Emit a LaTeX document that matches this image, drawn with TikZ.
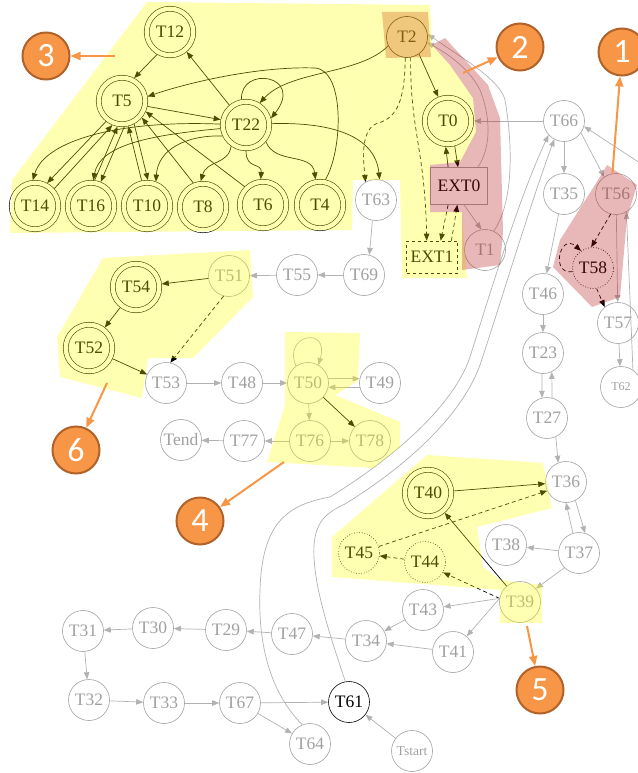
\documentclass[tikz,border=0pt]{standalone}
\usepackage{fontspec}
\setmainfont{Liberation Serif}
\newfontfamily\markfont{Carlito}
\usetikzlibrary{arrows.meta}

\definecolor{nodegray}{RGB}{160,160,160}
\definecolor{edgegray}{RGB}{178,178,178}
\definecolor{hlyellow}{RGB}{255,255,0}
\definecolor{hlred}{RGB}{180,20,20}
\definecolor{hlorange}{RGB}{217,117,45}
\definecolor{mkorange}{RGB}{247,150,70}
\definecolor{mkborder}{RGB}{176,98,42}

\begin{document}
\begin{tikzpicture}[x=1pt, y=-1pt, >={Triangle[length=7pt,width=5.5pt]},
  every node/.style={font=\fontsize{17.5}{19}\selectfont},
  st/.style={circle, draw=black, text=black, line width=0.6pt, minimum size=41pt, inner sep=0pt},
  gst/.style={st, draw=nodegray, text=nodegray},
  fst/.style={st, double, double distance=4.4pt, minimum size=46.5pt, outer sep=2.7pt},
  dst/.style={st, dotted, line width=0.8pt},
  ext/.style={rectangle, draw=nodegray, text=black, line width=0.6pt, minimum width=57pt, minimum height=37pt, inner sep=0pt},
  extd/.style={ext, draw=black, dashed, minimum width=51pt, minimum height=32pt},
  ge/.style={draw=edgegray, line width=0.7pt, ->},
  be/.style={draw=black, line width=0.7pt, ->},
  bd/.style={be, dash pattern=on 4pt off 3pt},
  hy/.style={fill=hlyellow, fill opacity=0.3},
  hr/.style={fill=hlred, fill opacity=0.3},
  ho/.style={fill=hlorange, fill opacity=0.4},
  mk/.style={circle, draw=mkborder, fill=mkorange, line width=2pt, minimum size=47pt, inner sep=0pt, text=white, font=\markfont\fontsize{34}{36}\selectfont},
  ma/.style={draw=mkorange, line width=2pt, -{Triangle[length=10pt,width=8pt]}}]
\useasboundingbox (0,0) rectangle (637,773);

% top cluster
\node[fst] (T12) at (170,32) {T12};
\node[fst] (T5) at (122,101) {T5};
\node[fst] (T22) at (246,125) {T22};
\node[fst] (T14) at (35,206) {T14};
\node[fst] (T16) at (91,206) {T16};
\node[fst] (T10) at (147,206) {T10};
\node[fst] (T8) at (203,207) {T8};
\node[fst] (T6) at (263,205) {T6};
\node[fst] (T4) at (320,205) {T4};
\node[st] (T2) at (407,37) {T2};
\node[fst] (T0) at (448,121) {T0};
\node[ext] (EXT0) at (459,186) {EXT0};
\node[extd] (EXT1) at (432,257) {EXT1};
\node[gst] (T1) at (485,250) {T1};
\node[gst] (T63) at (376,200) {T63};

% middle left
\node[gst] (T69) at (364,275) {T69};
\node[gst] (T55) at (297,275) {T55};
\node[gst] (T51) at (229,276) {T51};
\node[fst] (T54) at (136,287) {T54};
\node[fst] (T52) at (89,348) {T52};
\node[gst] (T53) at (166,383) {T53};
\node[gst] (T48) at (242,383) {T48};
\node[gst] (T50) at (308,383) {T50};
\node[gst] (T49) at (380,383) {T49};
\node[gst] (Tend) at (181,440) {Tend};
\node[gst] (T77) at (244,441) {T77};
\node[gst] (T76) at (310,441) {T76};
\node[gst] (T78) at (370,441) {T78};

% right column
\node[gst] (T66) at (564,121) {T66};
\node[gst] (T35) at (564,194) {T35};
\node[gst] (T56) at (616,194) {T56};
\node[dst] (T58) at (593,268) {T58};
\node[gst] (T57) at (618,323) {T57};
\node[gst, font=\fontsize{12}{14}\selectfont] (T62) at (621,387) {T62};
\node[gst] (T46) at (543,294) {T46};
\node[gst] (T23) at (543,353) {T23};
\node[gst] (T27) at (547,418) {T27};
\node[gst] (T36) at (566,482) {T36};
\node[gst] (T37) at (579,553) {T37};
\node[gst] (T38) at (506,545) {T38};
\node[fst] (T40) at (428,493) {T40};
\node[dst] (T45) at (359,553) {T45};
\node[dst] (T44) at (425,562) {T44};
\node[gst] (T39) at (520,602) {T39};

% bottom
\node[gst] (T43) at (423,610) {T43};
\node[gst] (T41) at (453,652) {T41};
\node[gst] (T34) at (366,641) {T34};
\node[gst] (T47) at (292,634) {T47};
\node[gst] (T29) at (226,630) {T29};
\node[gst] (T30) at (153,628) {T30};
\node[gst] (T31) at (83,631) {T31};
\node[gst] (T32) at (89,700) {T32};
\node[gst] (T33) at (164,703) {T33};
\node[gst] (T67) at (240,703) {T67};
\node[st] (T61) at (349,702) {T61};
\node[gst] (T64) at (310,744) {T64};
\node[gst, font=\fontsize{13.5}{15}\selectfont] (Tstart) at (412,751) {Tstart};
\coordinate (rim) at (640,163);

% edges of the top cluster
\draw[be] (T12.-120) -- (T5.62);
\draw[be] (T22.130) -- (T12.-50);
\draw[be] (T5.-12) -- (T22.168);
\draw[be] (T4.78) .. controls (343,150) and (345,70) .. (315,68) .. controls (260,66) and (190,82) .. (T5.10);
\draw[be] (T2.205) .. controls (360,75) and (290,70) .. (T22.58);
\draw[be] (T22.100) .. controls (240,65) and (305,75) .. (T22.15);
\draw[be] (T22.178) .. controls (120,120) and (45,140) .. (T14.95);
\draw[be] (T22.188) .. controls (150,135) and (100,145) .. (T16.85);
\draw[be] (T22.205) .. controls (185,135) and (158,150) .. (T10.70);
\draw[be] (T22.235) .. controls (228,165) and (207,160) .. (T8.95);
\draw[be] (T22.270) .. controls (246,170) and (262,162) .. (T6.95);
\draw[be] (T22.-40) .. controls (275,165) and (312,152) .. (T4.100);
\draw[be] (T22.3) .. controls (330,122) and (375,135) .. (T63.80);
\draw[be] (T5.-128) -- (T14.62);
\draw[be] (T14.42) -- (T5.-112);
\draw[be] (T5.-85) -- (T16.68);
\draw[be] (T16.82) -- (T5.-100);
\draw[be] (T5.-62) -- (T10.88);
\draw[be] (T10.102) -- (T5.-76);
\draw[be] (T8.112) -- (T5.-40);
\draw[be] (T6.135) -- (T5.-24);
\draw[be] (T2.-55) -- (T0.112);
\draw[be] (T0.-75) -- (EXT0.93);
\draw[be] (EXT0.120) -- (T0.-95);
\draw[bd] (T2.-95) .. controls (405,100) and (397,118) .. (378,123) .. controls (363,128) and (362,150) .. (T63.120);
\draw[bd] (T2.-80) .. controls (410,130) and (425,150) .. (EXT1.108);
\draw[bd] (EXT0.240) -- (EXT1.62);
\draw[bd] (EXT1.40) -- (EXT0.-95);
\draw[ge] (EXT0.-75) -- (T1.100);
\draw[ge] (EXT0.45) .. controls (490,150) and (492,120) .. (480,90) .. controls (470,70) and (450,55) .. (T2.-15);
\draw[ge] (T1.65) .. controls (515,200) and (512,140) .. (505,100) .. controls (500,80) and (465,60) .. (T2.8);
\draw[ge] (T66) -- (T0);
\draw[ge] (rim) -- (T66.-15);

% middle left
\draw[ge] (T63.-100) -- (T69.75);
\draw[ge] (T69) -- (T55);
\draw[ge] (T55) -- (T51);
\draw[be] (T51) -- (T54);
\draw[bd] (T51.-105) -- (T53.78);
\draw[be] (T54) -- (T52);
\draw[be] (T52) -- (T53);
\draw[ge] (T53) -- (T48);
\draw[ge] (T48) -- (T50);
\draw[ge] (T50.12) -- (T49.168);
\draw[ge] (T49.-168) -- (T50.-12);
\draw[ge] (T50.125) .. controls (282,335) and (330,325) .. (T50.60);
\draw[ge] (T50) -- (T76);
\draw[be] (T50) -- (T78);
\draw[ge] (T76) -- (T78);
\draw[ge] (T76) -- (T77);
\draw[ge] (T77) -- (Tend);

% right column
\draw[ge] (T66) -- (T35);
\draw[ge] (T66.-35) -- (T56.125);
\draw[ge] (T35.-105) -- (T46.80);
\draw[ge] (T46) -- (T23);
\draw[ge] (T23.-93) -- (T27.104);
\draw[ge] (T27.76) -- (T23.-65);
\draw[ge] (T27.-65) -- (T36.112);
\draw[ge] (T36.-63) -- (T37.73);
\draw[ge] (T37.107) -- (T36.-90);
\draw[ge] (T37) -- (T38);
\draw[ge] (T37.-135) -- (T39.40);
\draw[ge] (T56) -- (T57);
\draw[ge] (T57) -- (T62);
\draw[ge] (T62.55) -- (T56.-60);
\draw[bd] (T56.-105) -- (T58.95);
\draw[bd] (T58.190) .. controls (550,275) and (560,232) .. (T58.125);
\draw[bd] (T58.-80) -- (T57.130);
\draw[be] (T39) -- (T40);
\draw[be] (T40) -- (T36);
\draw[bd] (T45) -- (T36.-155);
\draw[bd] (T44) -- (T45);
\draw[bd] (T39.170) -- (T44.-30);

% bottom
\draw[ge] (T39.170) -- (T43);
\draw[ge] (T39.170) -- (T41);
\draw[ge] (T43) -- (T34);
\draw[ge] (T41) -- (T34);
\draw[ge] (T34) -- (T47);
\draw[ge] (T47) -- (T29);
\draw[ge] (T29) -- (T30);
\draw[ge] (T30) -- (T31);
\draw[ge] (T31) -- (T32);
\draw[ge] (T32) -- (T33);
\draw[ge] (T33) -- (T67);
\draw[ge] (T67) -- (T61);
\draw[ge] (T67) -- (T64);
\draw[ge] (Tstart) -- (T61);
\draw[ge] (T64.112) .. controls (268,690) and (258,640) .. (260,590) .. controls (262,525) and (285,505) .. (330,497)
  .. controls (390,460) and (450,410) .. (469,360) .. controls (488,300) and (518,200) .. (T66.222);
\draw[ge] (T61.100) .. controls (328,630) and (312,580) .. (314,545) .. controls (316,520) and (328,512) .. (345,504)
  .. controls (400,470) and (460,420) .. (480,365) .. controls (500,305) and (530,205) .. (T66.242);

% highlighted regions
\fill[hy] (147,2) -- (430,5) -- (432,45) -- (450,65) -- (473,98) -- (476,132) -- (460,162) -- (430,165) -- (430,212)
  -- (462,212) -- (467,278) -- (402,278) -- (400,180) -- (353,180) -- (352,230) -- (10,233) -- (12,180) -- cycle;
\fill[ho] (382,12) -- (428,12) -- (431,57) -- (386,58) -- cycle;
\fill[hr] (432,45) -- (445,38) -- (488,85) -- (500,118) -- (503,232) -- (500,265) -- (462,270) -- (462,212) -- (430,212)
  -- (430,165) -- (460,162) -- (476,132) -- (473,98) -- (450,65) -- cycle;
\fill[hr] (607,165) -- (637,185) -- (627,218) -- (620,297) -- (592,307) -- (553,267) -- (560,240) -- (598,180) -- cycle;
\fill[hy] (285,332) -- (360,333) -- (358,381) -- (335,395) -- (400,422) -- (400,447) -- (373,468) -- (267,462) -- (285,405) -- cycle;
\fill[hy] (427,455) -- (543,463) -- (552,508) -- (477,527) -- (483,567) -- (500,580) -- (542,585) -- (542,623) -- (500,623)
  -- (500,590) -- (332,577) -- (332,537) -- cycle;
\fill[hy] (103,258) -- (250,250) -- (253,297) -- (193,358) -- (148,358) -- (142,398) -- (60,377) -- (57,337) -- cycle;

% numbered markers
\node[mk] (m1) at (622,52) {1};
\node[mk] (m2) at (520,47) {2};
\node[mk] (m3) at (46,56) {3};
\node[mk] (m4) at (200,521) {4};
\node[mk] (m5) at (540,690) {5};
\node[mk] (m6) at (76,450) {6};
\coordinate (a2) at (463,73);
\coordinate (a3) at (115,56);
\coordinate (a4) at (284,462);
\coordinate (a5) at (527,626);
\coordinate (a6) at (107,383);
\draw[ma] (T56.100) -- (m1);
\draw[ma] (a2) -- (m2);
\draw[ma] (a3) -- (m3);
\draw[ma] (a4) -- (m4);
\draw[ma] (a5) -- (m5);
\draw[ma] (a6) -- (m6);
\end{tikzpicture}
\end{document}
